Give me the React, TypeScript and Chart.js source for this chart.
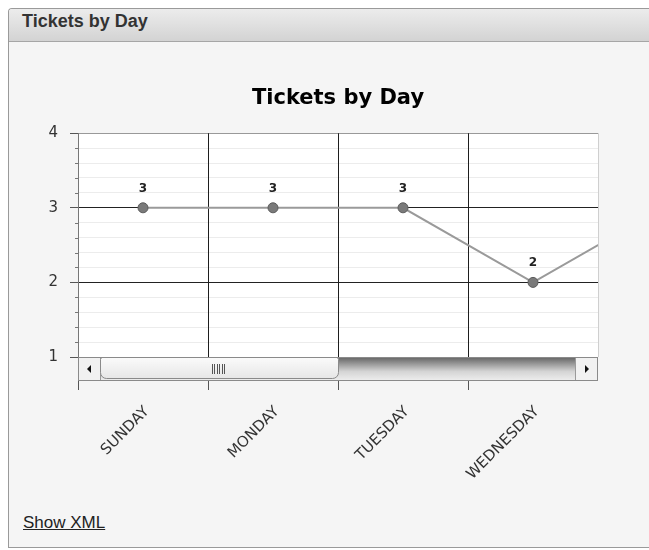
import React, { useEffect, useRef } from "react";
import { Chart, registerables } from "chart.js";

Chart.register(...registerables);

const chartTitle = "Tickets by Day";
const panelTitle = "Tickets by Day";
const linkText = "Show XML";
const categories = ["SUNDAY", "MONDAY", "TUESDAY", "WEDNESDAY", "THURSDAY"];
const tickets = [3, 3, 3, 2, 3];
const visibleFirst = 0;
const visibleLast = 3;
const yMin = 1;
const yMax = 4;
const yStep = 0.2;
const thumbFraction = 0.5;

const isMajor = (v: number) => Math.abs(v - Math.round(v)) < 1e-6;

const decorPlugin = {
  id: "decor",
  beforeDraw(chart: any) {
    const { ctx, chartArea: a } = chart;
    ctx.save();
    ctx.fillStyle = "#ffffff";
    ctx.fillRect(a.left, a.top, a.right - a.left, a.bottom - a.top);
    ctx.restore();
  },
  afterDatasetsDraw(chart: any) {
    const { ctx, chartArea: a } = chart;
    const meta = chart.getDatasetMeta(0);
    ctx.save();
    ctx.font = "bold 12px 'DejaVu Sans'";
    ctx.fillStyle = "#222";
    ctx.textAlign = "center";
    ctx.textBaseline = "alphabetic";
    meta.data.forEach((pt: any, i: number) => {
      if (pt.x >= a.left && pt.x <= a.right) {
        ctx.fillText(String(tickets[i]), pt.x, pt.y - 16);
      }
    });
    ctx.restore();
  },
  afterDraw(chart: any) {
    const { ctx, chartArea: a } = chart;
    const ys = chart.scales.y;
    ctx.save();
    ctx.strokeStyle = "#777";
    ctx.lineWidth = 1;
    ys.ticks.forEach((t: any) => {
      if (!isMajor(t.value)) {
        const y = Math.round(ys.getPixelForValue(t.value)) + 0.5;
        ctx.beginPath();
        ctx.moveTo(a.left - 3, y);
        ctx.lineTo(a.left, y);
        ctx.stroke();
      }
    });
    const L = Math.round(a.left);
    const R = Math.round(a.right);
    const T = Math.round(a.bottom);
    const H = 24;
    const B = 22;
    const g = ctx.createLinearGradient(0, T, 0, T + H);
    g.addColorStop(0, "#626262");
    g.addColorStop(0.6, "#d4d4d4");
    g.addColorStop(1, "#efefef");
    ctx.fillStyle = g;
    ctx.fillRect(L, T, R - L, H);
    ctx.fillStyle = "#f1f1f1";
    ctx.fillRect(L, T, B, H);
    ctx.fillRect(R - B, T, B, H);
    ctx.strokeStyle = "#9a9a9a";
    ctx.beginPath();
    ctx.moveTo(L + B + 0.5, T);
    ctx.lineTo(L + B + 0.5, T + H);
    ctx.moveTo(R - B - 0.5, T);
    ctx.lineTo(R - B - 0.5, T + H);
    ctx.stroke();
    ctx.fillStyle = "#111";
    const cy = T + H / 2;
    let cx = L + B / 2;
    ctx.beginPath();
    ctx.moveTo(cx - 2, cy);
    ctx.lineTo(cx + 2, cy - 4);
    ctx.lineTo(cx + 2, cy + 4);
    ctx.closePath();
    ctx.fill();
    cx = R - B / 2;
    ctx.beginPath();
    ctx.moveTo(cx + 2, cy);
    ctx.lineTo(cx - 2, cy - 4);
    ctx.lineTo(cx - 2, cy + 4);
    ctx.closePath();
    ctx.fill();
    const trackW = R - L - 2 * B;
    const tx = L + B;
    const tw = trackW * thumbFraction;
    const tg = ctx.createLinearGradient(0, T, 0, T + H);
    tg.addColorStop(0, "#fbfbfb");
    tg.addColorStop(1, "#e4e4e4");
    ctx.fillStyle = tg;
    ctx.strokeStyle = "#8a8a8a";
    ctx.beginPath();
    ctx.roundRect(tx + 0.5, T + 0.5, tw, H - 3, [2, 2, 6, 6]);
    ctx.fill();
    ctx.stroke();
    ctx.strokeStyle = "#555";
    const gx = tx + tw / 2;
    for (let k = -3; k < 3; k++) {
      const x = Math.round(gx + k * 2.5) + 0.5;
      ctx.beginPath();
      ctx.moveTo(x, cy - 5);
      ctx.lineTo(x, cy + 5);
      ctx.stroke();
    }
    ctx.strokeStyle = "#8a8a8a";
    ctx.strokeRect(L + 0.5, T + 0.5, R - L - 1, H - 1);
    ctx.restore();
  },
};

function TicketsChart() {
  const ref = useRef<HTMLCanvasElement>(null);
  useEffect(() => {
    if (!ref.current) return;
    Chart.defaults.font.family = "'DejaVu Sans'";
    const chart = new Chart(ref.current, {
      type: "line",
      data: {
        labels: categories,
        datasets: [
          {
            data: tickets,
            borderColor: "#9a9a9a",
            borderWidth: 2,
            tension: 0,
            pointRadius: 5,
            pointBackgroundColor: "#7a7a7a",
            pointBorderColor: "#5c5c5c",
            pointBorderWidth: 1,
            clip: 0,
          } as any,
        ],
      },
      options: {
        animation: false,
        responsive: false,
        layout: { padding: { left: 0, right: 51, top: 0, bottom: 0 } },
        plugins: {
          legend: { display: false },
          tooltip: { enabled: false },
          title: {
            display: true,
            text: chartTitle,
            fullSize: false,
            color: "#000",
            font: { size: 21, weight: "bold", lineHeight: 1.2 },
            padding: { top: 44, bottom: 22 },
          },
        },
        scales: {
          x: {
            type: "category",
            offset: true,
            afterDataLimits: (s: any) => {
              s.min = visibleFirst;
              s.max = visibleLast;
            },
            grid: {
              offset: true,
              z: -1,
              color: (c: any) => (c.tick ? "#1e1e1e" : "#cfcfcf"),
              tickColor: (c: any) => (c.tick ? "#555" : "transparent"),
              tickLength: 33,
            },
            border: { display: false },
            ticks: {
              autoSkip: false,
              minRotation: 45,
              maxRotation: 45,
              padding: 13,
              labelOffset: 4,
              color: "#333",
              font: { size: 15 },
            },
            afterFit: (s: any) => {
              s.height = 135;
            },
          },
          y: {
            min: yMin,
            max: yMax,
            ticks: {
              stepSize: yStep,
              autoSkip: false,
              padding: 12,
              color: "#333",
              font: { size: 15 },
              callback: (v: any) => (isMajor(Number(v)) ? String(Math.round(Number(v))) : ""),
            },
            grid: {
              z: -2,
              color: (c: any) => {
                const v = c.tick ? c.tick.value : null;
                if (v == null) return "#ececec";
                if (Math.abs(v - yMax) < 1e-6) return "#999";
                return isMajor(v) ? "#222" : "#ececec";
              },
              tickColor: (c: any) => (c.tick && isMajor(c.tick.value) ? "#555" : "transparent"),
              tickLength: 8,
            },
            border: { color: "#777" },
            afterFit: (s: any) => {
              s.width = 69;
            },
          },
        },
      } as any,
      plugins: [decorPlugin],
    });
    return () => chart.destroy();
  }, []);
  return <canvas ref={ref} width={640} height={450} style={{ display: "block", width: 640, height: 450 }} />;
}

export default function App() {
  useEffect(() => {
    document.documentElement.style.overflow = "hidden";
    document.body.style.overflow = "hidden";
  }, []);
  return (
    <div
      style={{
        position: "fixed",
        left: 8,
        top: 8,
        right: -20,
        height: 540,
        boxSizing: "border-box",
        background: "#f5f5f5",
        borderTop: "1px solid #9a9a9a",
        borderLeft: "1px solid #9a9a9a",
        borderBottom: "1px solid #9a9a9a",
        borderTopLeftRadius: 4,
        overflow: "hidden",
      }}
    >
      <div
        style={{
          height: 30,
          paddingTop: 2,
          paddingLeft: 13,
          lineHeight: "32px",
          borderBottom: "1px solid #a6a6a6",
          background: "linear-gradient(#ececec, #d3d3d3)",
          font: "bold 18px 'Liberation Sans', Arial, sans-serif",
          color: "#333",
          whiteSpace: "nowrap",
        }}
      >
        {panelTitle}
      </div>
      <TicketsChart />
      <span
        style={{
          position: "absolute",
          left: 14,
          top: 505,
          font: "17px 'Liberation Sans', Arial, sans-serif",
          lineHeight: "17px",
          color: "#222",
          textDecoration: "underline",
        }}
      >
        {linkText}
      </span>
    </div>
  );
}
